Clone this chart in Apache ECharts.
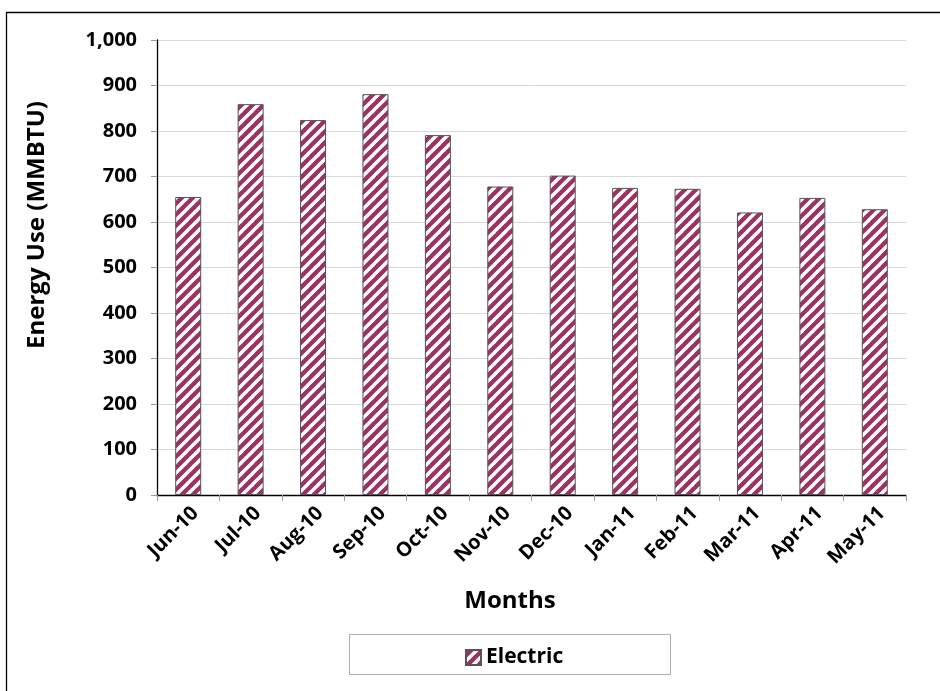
<!DOCTYPE html>
<html>
<head>
<meta charset="utf-8">
<script src="https://cdn.jsdelivr.net/npm/echarts@6/dist/echarts.min.js"></script>
<style>html,body{margin:0;padding:0;background:#fff;}#c{width:940px;height:691px;}</style>
</head>
<body>
<div id="c"></div>
<script>
var categories = ['Jun-10','Jul-10','Aug-10','Sep-10','Oct-10','Nov-10','Dec-10','Jan-11','Feb-11','Mar-11','Apr-11','May-11'];
var electric = [655, 859, 824, 881, 791, 678, 702, 675, 673, 621, 653, 628];
var yTicks = [0, 100, 200, 300, 400, 500, 600, 700, 800, 900, 1000];
var xTitle = 'Months';
var yTitle = 'Energy Use (MMBTU)';

function makePattern() {
  var s = 11;
  var cv = document.createElement('canvas');
  cv.width = s; cv.height = s;
  var ctx = cv.getContext('2d');
  ctx.fillStyle = '#993366';
  ctx.fillRect(0, 0, s, s);
  ctx.strokeStyle = '#ffffff';
  ctx.lineWidth = 3.4;
  for (var k = -1; k <= 1; k++) {
    ctx.beginPath();
    ctx.moveTo(k * s - 1, s + 1);
    ctx.lineTo(k * s + s + 1, -1);
    ctx.stroke();
  }
  return cv;
}
var pat = { image: makePattern(), repeat: 'repeat' };
var FONT = '"Open Sans"';

var chart = echarts.init(document.getElementById('c'), null, { renderer: 'canvas' });
chart.setOption({
  animation: false,
  backgroundColor: '#fff',
  textStyle: { fontFamily: FONT },
  grid: { left: 157, right: 34, top: 40, bottom: 196, containLabel: false },
  xAxis: {
    type: 'category',
    data: categories,
    axisLine: { lineStyle: { color: '#000', width: 1.3 } },
    axisTick: { show: true, alignWithLabel: false, length: 6, lineStyle: { color: '#999' } },
    axisLabel: { rotate: 45, fontFamily: FONT, fontWeight: 'bold', fontSize: 20, color: '#000', margin: 8, interval: 0, verticalAlign: 'top' },
    splitLine: { show: false }
  },
  yAxis: {
    type: 'value',
    min: 0, max: 1000, interval: 100,
    axisLine: { show: true, lineStyle: { color: '#000', width: 1.3 } },
    axisTick: { show: true, length: 6, lineStyle: { color: '#999' } },
    axisLabel: {
      fontFamily: FONT, fontWeight: 'bold', fontSize: 20, color: '#000', margin: 20,
      formatter: function (v) { return yTicks.indexOf(v) >= 0 ? v.toLocaleString('en-US') : ''; }
    },
    splitLine: { show: true, lineStyle: { color: '#d9d9d9', width: 1 } }
  },
  legend: {
    data: ['Electric'],
    left: 460, top: 642,
    itemWidth: 15, itemHeight: 15, icon: 'rect', itemGap: 4,
    textStyle: { fontFamily: FONT, fontWeight: 'bold', fontSize: 21, color: '#000' }
  },
  graphic: [
    { type: 'rect', shape: { x: 6.5, y: 12.5, width: 1000, height: 1000 }, style: { fill: 'none', stroke: '#000', lineWidth: 1.3 }, silent: true, z: -1 },
    { type: 'rect', shape: { x: 349.5, y: 634.5, width: 321, height: 40 }, style: { fill: 'none', stroke: '#b0b0b0', lineWidth: 1 }, silent: true },
    { type: 'text', x: 37, y: 225, rotation: Math.PI / 2, silent: true,
      style: { text: yTitle, font: 'bold 24px "Open Sans"', fill: '#000', textAlign: 'center', textVerticalAlign: 'middle' } },
    { type: 'text', x: 510, y: 601, silent: true,
      style: { text: xTitle, font: 'bold 24px "Open Sans"', fill: '#000', textAlign: 'center', textVerticalAlign: 'middle' } }
  ],
  series: [{
    name: 'Electric',
    type: 'bar',
    data: electric,
    barWidth: 26,
    itemStyle: { color: pat, borderColor: '#555', borderWidth: 1 }
  }]
});
</script>
</body>
</html>
